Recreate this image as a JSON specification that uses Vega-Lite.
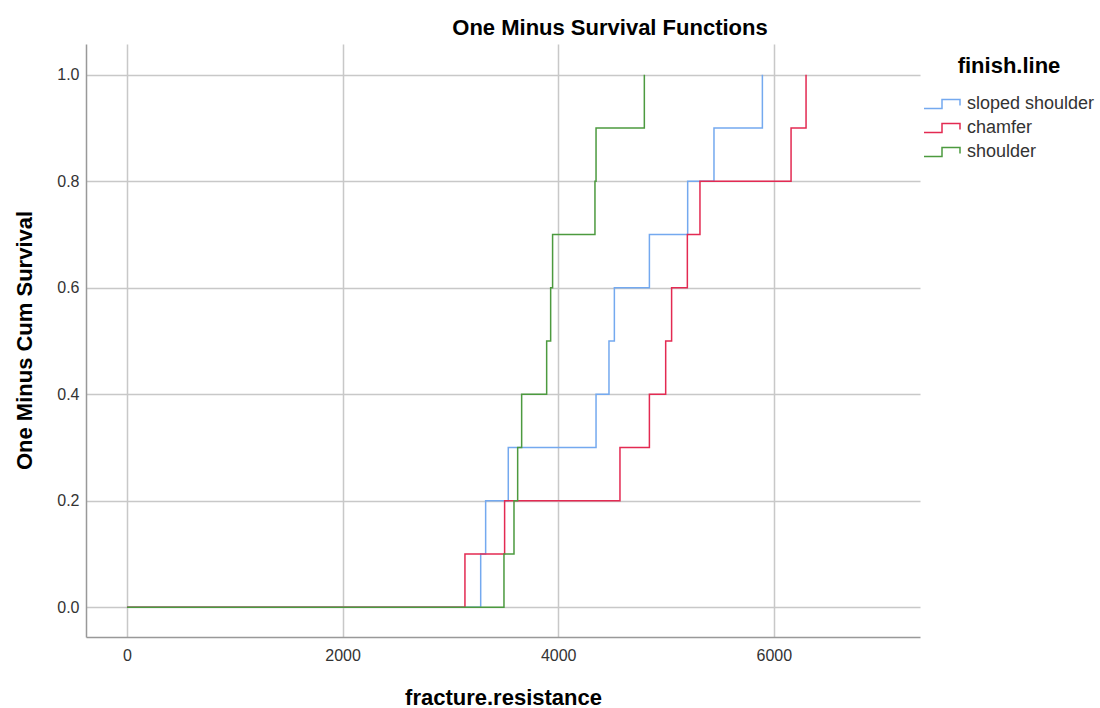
{
  "$schema": "https://vega.github.io/schema/vega-lite/v6.json",
  "autosize": {"type": "none"},
  "padding": {"left": 86, "top": 44, "right": 180, "bottom": 71},
  "width": 834,
  "height": 593,
  "background": "white",
  "title": {
    "text": "One Minus Survival Functions",
    "font": "Liberation Sans",
    "fontSize": 22,
    "fontWeight": "bold",
    "color": "#000000",
    "anchor": "middle",
    "dx": 107,
    "offset": 4
  },
  "data": {
    "values": [
      {"finish": "sloped shoulder", "t": 0, "p": 0},
      {"finish": "sloped shoulder", "t": 3281, "p": 0.1},
      {"finish": "sloped shoulder", "t": 3327, "p": 0.2},
      {"finish": "sloped shoulder", "t": 3537, "p": 0.3},
      {"finish": "sloped shoulder", "t": 4351, "p": 0.4},
      {"finish": "sloped shoulder", "t": 4471, "p": 0.5},
      {"finish": "sloped shoulder", "t": 4521, "p": 0.6},
      {"finish": "sloped shoulder", "t": 4846, "p": 0.7},
      {"finish": "sloped shoulder", "t": 5201, "p": 0.8},
      {"finish": "sloped shoulder", "t": 5445, "p": 0.9},
      {"finish": "sloped shoulder", "t": 5894, "p": 1.0},
      {"finish": "chamfer", "t": 0, "p": 0},
      {"finish": "chamfer", "t": 3135, "p": 0.1},
      {"finish": "chamfer", "t": 3503, "p": 0.2},
      {"finish": "chamfer", "t": 4573, "p": 0.3},
      {"finish": "chamfer", "t": 4846, "p": 0.4},
      {"finish": "chamfer", "t": 4997, "p": 0.5},
      {"finish": "chamfer", "t": 5052, "p": 0.6},
      {"finish": "chamfer", "t": 5198, "p": 0.7},
      {"finish": "chamfer", "t": 5315, "p": 0.8},
      {"finish": "chamfer", "t": 6160, "p": 0.9},
      {"finish": "chamfer", "t": 6299, "p": 1.0},
      {"finish": "shoulder", "t": 0, "p": 0},
      {"finish": "shoulder", "t": 3497, "p": 0.1},
      {"finish": "shoulder", "t": 3590, "p": 0.2},
      {"finish": "shoulder", "t": 3624, "p": 0.3},
      {"finish": "shoulder", "t": 3661, "p": 0.4},
      {"finish": "shoulder", "t": 3893, "p": 0.5},
      {"finish": "shoulder", "t": 3930, "p": 0.6},
      {"finish": "shoulder", "t": 3948, "p": 0.7},
      {"finish": "shoulder", "t": 4341, "p": 0.8},
      {"finish": "shoulder", "t": 4351, "p": 0.9},
      {"finish": "shoulder", "t": 4799, "p": 1.0}
    ]
  },
  "mark": {"type": "line", "interpolate": "step-after", "strokeWidth": 1.5, "clip": true},
  "encoding": {
    "x": {
      "field": "t",
      "type": "quantitative",
      "scale": {"domain": [-380, 7356], "nice": false, "zero": false},
      "axis": {
        "title": "fracture.resistance",
        "values": [0, 2000, 4000, 6000],
        "format": "d",
        "grid": true,
        "gridColor": "#c8c8c8",
        "gridWidth": 1.5,
        "ticks": false,
        "domainColor": "#999999",
        "domainWidth": 1.5,
        "labelFont": "Liberation Sans",
        "labelFontSize": 16,
        "labelColor": "#333333",
        "labelPadding": 10,
        "titleFont": "Liberation Sans",
        "titleFontSize": 22,
        "titleFontWeight": "bold",
        "titleColor": "#000000",
        "titleY": 60,
        "titleBaseline": "middle"
      }
    },
    "y": {
      "field": "p",
      "type": "quantitative",
      "scale": {"domain": [-0.056, 1.058], "nice": false, "zero": false},
      "axis": {
        "title": "One Minus Cum Survival",
        "values": [0, 0.2, 0.4, 0.6, 0.8, 1.0],
        "format": ".1f",
        "grid": true,
        "gridColor": "#c8c8c8",
        "gridWidth": 1.5,
        "ticks": false,
        "domainColor": "#999999",
        "domainWidth": 1.5,
        "labelFont": "Liberation Sans",
        "labelFontSize": 16,
        "labelColor": "#333333",
        "labelPadding": 7,
        "titleFont": "Liberation Sans",
        "titleFontSize": 22,
        "titleFontWeight": "bold",
        "titleColor": "#000000",
        "titleX": -62,
        "titleY": 296,
        "titleAngle": -90,
        "titleBaseline": "middle"
      }
    },
    "color": {
      "field": "finish",
      "type": "nominal",
      "sort": ["sloped shoulder", "chamfer", "shoulder"],
      "scale": {
        "domain": ["sloped shoulder", "chamfer", "shoulder"],
        "range": ["#74a9ef", "#e32a52", "#4c9a3f"]
      },
      "legend": {
        "title": "finish.line",
        "titleFont": "Liberation Sans",
        "titleFontSize": 22,
        "titleFontWeight": "bold",
        "titleColor": "#000000",
        "titleAnchor": "middle",
        "titlePadding": 15,
        "labelFont": "Liberation Sans",
        "labelFontSize": 18,
        "labelColor": "#333333",
        "labelOffset": 22,
        "symbolType": "M-1,0.45L0.8,0.45L0.8,-0.45L2.6,-0.45L2.6,0.15",
        "symbolSize": 400,
        "symbolStrokeWidth": 1.5,
        "symbolFillColor": "transparent",
        "rowPadding": 4,
        "orient": "none",
        "legendX": 837,
        "legendY": 12
      }
    }
  },
  "config": {
    "view": {"stroke": null}
  }
}
